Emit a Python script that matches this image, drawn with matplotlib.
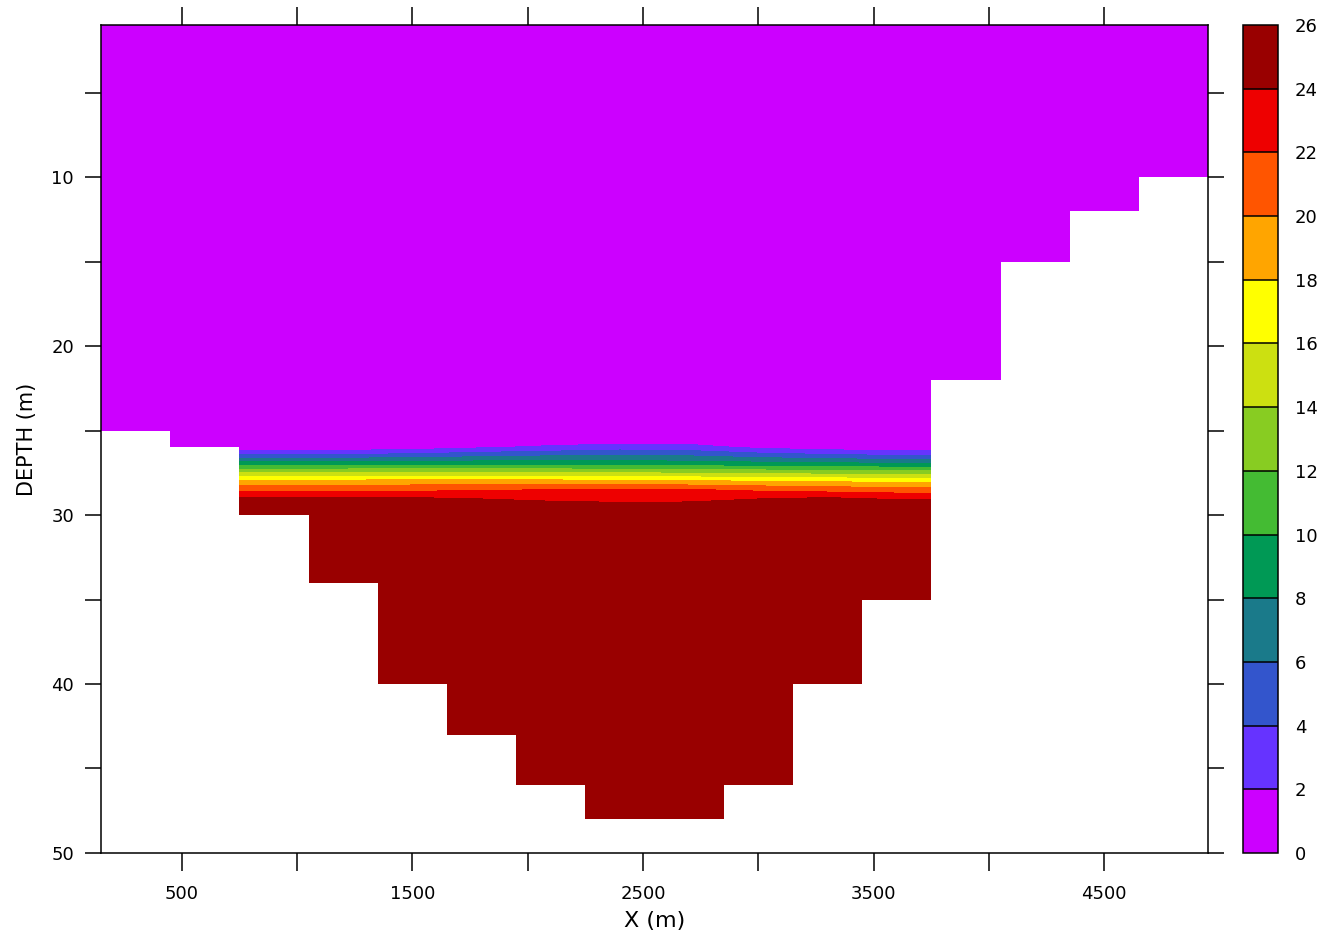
import numpy as np
import matplotlib
matplotlib.use("Agg")
import matplotlib.pyplot as plt
from matplotlib.colors import ListedColormap, BoundaryNorm

# ------------------------------
# DATA
# ------------------------------
# cell centres (m) and bottom depth (m) of each column
x_centers = [300, 600, 900, 1200, 1500, 1800, 2100, 2400,
             2700, 3000, 3300, 3600, 3900, 4200, 4500, 4800]
bottom_depth = [25, 26, 30, 34, 40, 43, 46, 48,
                48, 46, 40, 35, 22, 15, 12, 10]

# temperature profiles, columns x = 900 ... 3600 (the wet part of the thermocline)
prof_x = [900, 1200, 1500, 1800, 2100, 2400, 2700, 3000, 3300, 3600]
prof_depth = [1, 25.5, 26.0, 26.5, 27.0, 27.5, 28.0, 28.5, 29.0, 29.5, 30.0, 50]
prof_temp = [
    [0.5, 0.5, 0.5, 4.5, 9.5, 14.0, 18.5, 21.5, 24.3, 25.0, 25.0, 25.0],
    [0.5, 0.5, 0.6, 4.7, 9.5, 14.0, 18.6, 21.4, 24.2, 25.0, 25.0, 25.0],
    [0.5, 0.5, 1.0, 5.0, 9.6, 14.2, 18.8, 21.5, 24.1, 25.0, 25.0, 25.0],
    [0.5, 0.5, 1.8, 5.6, 9.6, 14.2, 18.8, 21.8, 23.9, 24.9, 25.0, 25.0],
    [0.5, 0.5, 2.4, 6.0, 9.5, 14.1, 18.7, 22.0, 23.6, 24.7, 25.0, 25.0],
    [0.5, 0.5, 3.0, 6.3, 9.3, 14.0, 18.5, 22.3, 23.4, 24.6, 25.0, 25.0],
    [0.5, 0.5, 2.8, 6.0, 9.2, 13.8, 18.3, 22.1, 23.5, 24.6, 25.0, 25.0],
    [0.5, 0.5, 1.6, 5.2, 9.0, 13.5, 18.0, 21.6, 23.9, 24.9, 25.0, 25.0],
    [0.5, 0.5, 1.0, 4.6, 8.8, 13.3, 17.8, 21.2, 24.1, 25.0, 25.0, 25.0],
    [0.5, 0.5, 0.6, 4.2, 8.5, 13.0, 17.5, 20.8, 23.8, 24.9, 25.0, 25.0],
]

levels = list(range(0, 28, 2))
colors = ["#cc00ff", "#6633ff", "#3355cc", "#1a7a8a", "#009955", "#44bb33",
          "#88cc22", "#cce011", "#ffff00", "#ffa500", "#ff5500", "#ee0000",
          "#990000"]

x_lo, x_hi = 150, 4950

# ------------------------------
# PLOT
# ------------------------------
cmap = ListedColormap(colors)
norm = BoundaryNorm(levels, cmap.N)

fig = plt.figure(figsize=(13.19, 9.39), dpi=100)
ax = fig.add_axes([0.0766, 0.0916, 0.8393, 0.8818])
cax = fig.add_axes([0.9424, 0.0916, 0.0265, 0.8818])

# temperature grid, edge columns repeated out to the domain walls
T = np.array(prof_temp).T
T = np.pad(T, ((0, 0), (1, 1)), mode="edge")
xg = np.r_[x_lo, prof_x, x_hi]
cf = ax.contourf(xg, prof_depth, T, levels=levels, cmap=cmap, norm=norm, zorder=1)

# land below the bottom
ax.bar(x_centers, [50 - b for b in bottom_depth], bottom=bottom_depth, width=300,
       color="white", linewidth=0, zorder=2)

ax.set_xlim(x_lo, x_hi)
ax.set_ylim(50, 1)

ax.set_xticks([500, 1500, 2500, 3500, 4500])
ax.set_xticks([1000, 2000, 3000, 4000], minor=True)
ax.set_yticks([10, 20, 30, 40, 50])
ax.set_yticks([5, 15, 25, 35, 45], minor=True)
ax.tick_params(which="both", direction="out", top=True, right=True,
               labeltop=False, labelright=False, width=1.1, color="black",
               labelsize=13)
ax.tick_params(axis="x", which="both", length=13, pad=10)
ax.tick_params(axis="y", which="both", length=11.5, pad=8)
for s in ax.spines.values():
    s.set_linewidth(1.1)
    s.set_zorder(5)

ax.set_xlabel("X (m)", fontsize=16, labelpad=6)
ax.set_ylabel("DEPTH (m)", fontsize=15, labelpad=10)

cb = fig.colorbar(cf, cax=cax, ticks=levels, drawedges=True)
cb.outline.set_linewidth(1.1)
cb.dividers.set_linewidth(1.1)
cb.ax.tick_params(length=0, labelsize=13, pad=12)

plt.savefig("out.png", dpi=100)
